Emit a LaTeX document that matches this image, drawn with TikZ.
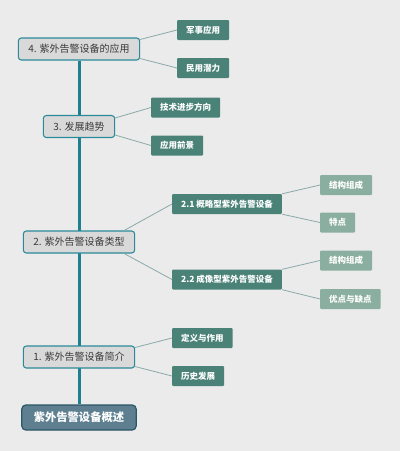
\documentclass[tikz,border=0pt]{standalone}
\usepackage{fontspec}
\setmainfont{Noto Sans CJK SC}
\usetikzlibrary{backgrounds}
\definecolor{bg}{HTML}{EBEBEB}
\definecolor{trunkc}{HTML}{1E7F8E}
\definecolor{lonefill}{HTML}{D9D9D9}
\definecolor{loneborder}{HTML}{2A8A9A}
\definecolor{ltwofill}{HTML}{4A8278}
\definecolor{lthreefill}{HTML}{8AAE9F}
\definecolor{rootfill}{HTML}{5E7F90}
\definecolor{rootborder}{HTML}{2B5668}
\definecolor{connc}{HTML}{8AA9A8}
\definecolor{lonetext}{HTML}{3A3A3A}
\tikzset{
  rootbox/.style={draw=rootborder, line width=1.2pt, fill=rootfill, rounded corners=4pt,
    text=white, font=\fontsize{11.3}{13}\selectfont\bfseries, minimum height=25pt, inner xsep=12pt, inner ysep=0pt},
  lonebox/.style={draw=loneborder, line width=1.1pt, fill=lonefill, rounded corners=3pt,
    text=lonetext, font=\fontsize{10}{12}\selectfont, minimum height=22pt, inner xsep=10pt, inner ysep=0pt},
  ltwobox/.style={fill=ltwofill, rounded corners=1pt, text=white,
    font=\fontsize{8.5}{10}\selectfont\bfseries, minimum height=20pt, inner xsep=9pt, inner ysep=0pt, anchor=west},
  lthreebox/.style={fill=lthreefill, rounded corners=1pt, text=white,
    font=\fontsize{8.5}{10}\selectfont\bfseries, minimum height=20pt, inner xsep=9pt, inner ysep=0pt, anchor=west},
  conn/.style={draw=connc, line width=0.8pt},
  trunk/.style={draw=trunkc, line width=3pt},
}
\begin{document}
\begin{tikzpicture}[x=1pt,y=-1pt]
\useasboundingbox (0,0) rectangle (400,451);
% level 0 and 1
\node[rootbox] (root) at (79,417.5) {紫外告警设备概述};
\node[lonebox] (n1) at (79,357) {1. 紫外告警设备简介};
\node[lonebox] (n2) at (79,242) {2. 紫外告警设备类型};
\node[lonebox] (n3) at (79,126.5) {3. 发展趋势};
\node[lonebox] (n4) at (79,49) {4. 紫外告警设备的应用};
% level 2
\node[ltwobox] (a1) at (177,30) {军事应用};
\node[ltwobox] (a2) at (177,68) {民用潜力};
\node[ltwobox] (b1) at (151,107.5) {技术进步方向};
\node[ltwobox] (b2) at (151,145.5) {应用前景};
\node[ltwobox] (c1) at (172,204) {2.1 概略型紫外告警设备};
\node[ltwobox] (c2) at (172,279.5) {2.2 成像型紫外告警设备};
\node[ltwobox] (d1) at (172,338) {定义与作用};
\node[ltwobox] (d2) at (172,376) {历史发展};
% level 3
\node[lthreebox] (e1) at (320,185) {结构组成};
\node[lthreebox] (e2) at (320,222.5) {特点};
\node[lthreebox] (f1) at (320,260.5) {结构组成};
\node[lthreebox] (f2) at (320,299) {优点与缺点};
\begin{pgfonlayer}{background}
\fill[bg] (0,0) rectangle (400,451);
\draw[trunk] (n4.south) -- (root.north);
\end{pgfonlayer}
% connectors
\draw[conn] ([yshift=-2pt]n4.north east) -- (a1.west);
\draw[conn] ([yshift=2pt]n4.south east) -- (a2.west);
\draw[conn] ([yshift=-3pt]n3.north east) -- (b1.west);
\draw[conn] ([yshift=3pt]n3.south east) -- (b2.west);
\draw[conn] ([xshift=-11pt]n2.north east) -- (c1.west);
\draw[conn] ([xshift=-11pt]n2.south east) -- (c2.west);
\draw[conn] ([yshift=-2pt]n1.north east) -- (d1.west);
\draw[conn] ([yshift=2pt]n1.south east) -- (d2.west);
\draw[conn] (c1.north east) -- (e1.west);
\draw[conn] (c1.south east) -- (e2.west);
\draw[conn] (c2.north east) -- (f1.west);
\draw[conn] (c2.south east) -- (f2.west);
\end{tikzpicture}
\end{document}
